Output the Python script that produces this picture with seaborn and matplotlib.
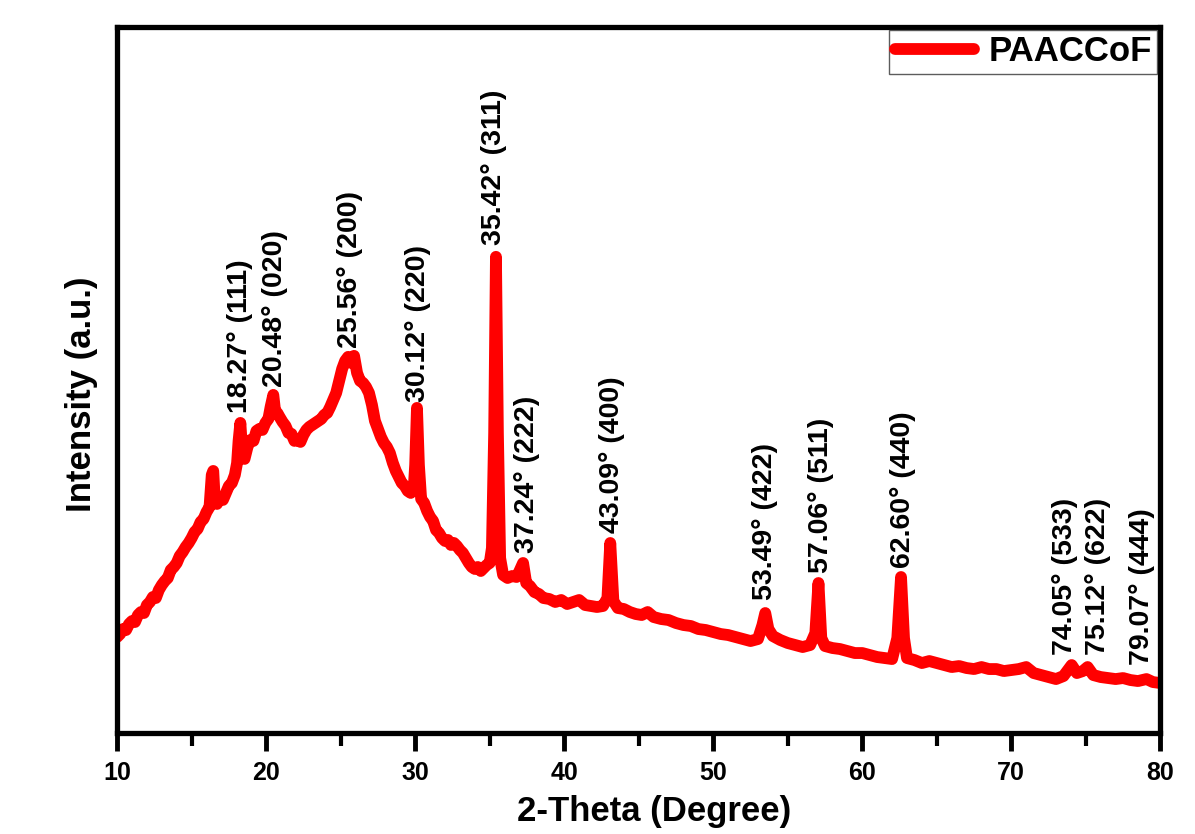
import pandas as pd
import matplotlib
matplotlib.use("Agg")
import matplotlib.pyplot as plt
import seaborn as sns

# XRD pattern of PAACCoF (arbitrary intensity units)
two_theta = [10.0, 10.2, 10.4, 10.6, 10.8, 11.0, 11.2, 11.4, 11.6, 11.8, 12.0, 12.2,
             12.4, 12.6, 12.8, 13.0, 13.2, 13.4, 13.6, 13.8, 14.0, 14.2, 14.4, 14.6,
             14.8, 15.0, 15.2, 15.4, 15.6, 15.8, 16.0, 16.2, 16.35, 16.45, 16.55, 16.7,
             16.9, 17.1, 17.3, 17.5, 17.7, 17.9, 18.05, 18.15, 18.27, 18.4, 18.55, 18.75,
             18.95, 19.15, 19.35, 19.55, 19.75, 19.95, 20.15, 20.3, 20.48, 20.6, 20.75, 20.9,
             21.1, 21.3, 21.5, 21.7, 21.9, 22.1, 22.3, 22.5, 22.7, 22.9, 23.1, 23.3,
             23.5, 23.7, 23.9, 24.1, 24.3, 24.5, 24.7, 24.9, 25.1, 25.3, 25.5, 25.7,
             25.9, 26.1, 26.3, 26.5, 26.7, 26.9, 27.1, 27.3, 27.5, 27.7, 27.9, 28.1,
             28.3, 28.5, 28.7, 28.9, 29.1, 29.3, 29.5, 29.7, 29.9, 30.0, 30.12, 30.25,
             30.4, 30.6, 30.8, 31.0, 31.2, 31.4, 31.6, 31.8, 32.0, 32.2, 32.4, 32.6,
             32.8, 33.0, 33.2, 33.4, 33.6, 33.8, 34.0, 34.2, 34.4, 34.6, 34.8, 35.0,
             35.15, 35.3, 35.42, 35.55, 35.7, 35.9, 36.2, 36.5, 36.8, 37.0, 37.24, 37.45,
             37.7, 38.0, 38.3, 38.6, 39.0, 39.4, 39.8, 40.2, 40.6, 41.0, 41.4, 41.8,
             42.2, 42.6, 42.9, 43.09, 43.3, 43.6, 44.0, 44.4, 44.8, 45.2, 45.6, 46.0,
             46.5, 47.0, 47.5, 48.0, 48.5, 49.0, 49.5, 50.0, 50.5, 51.0, 51.5, 52.0,
             52.5, 53.0, 53.3, 53.49, 53.7, 54.0, 54.5, 55.0, 55.5, 56.0, 56.5, 56.85,
             57.06, 57.25, 57.5, 58.0, 58.5, 59.0, 59.5, 60.0, 60.5, 61.0, 61.5, 62.0,
             62.35, 62.6, 62.8, 63.0, 63.5, 64.0, 64.5, 65.0, 65.5, 66.0, 66.5, 67.0,
             67.5, 68.0, 68.5, 69.0, 69.5, 70.0, 70.5, 71.0, 71.5, 72.0, 72.5, 73.0,
             73.5, 74.05, 74.4, 74.8, 75.12, 75.5, 76.0, 76.5, 77.0, 77.5, 78.0, 78.5,
             79.07, 79.5, 80.0]
intensity = [96, 99, 104, 103, 109, 112, 111, 118, 121, 120, 128, 131,
             136, 135, 143, 148, 152, 155, 163, 166, 170, 177, 181, 186,
             190, 195, 201, 204, 211, 214, 221, 226, 258, 262, 234, 229,
             236, 233, 240, 247, 250, 258, 270, 292, 310, 280, 274, 286,
             293, 292, 302, 304, 303, 310, 314, 326, 338, 322, 320, 316,
             311, 307, 300, 299, 292, 293, 291, 298, 303, 306, 308, 310,
             312, 314, 318, 320, 326, 333, 340, 352, 364, 372, 376, 370,
             377, 360, 352, 350, 346, 340, 328, 312, 304, 296, 290, 286,
             280, 270, 262, 256, 250, 247, 242, 240, 244, 268, 325, 268,
             234, 230, 222, 216, 212, 203, 200, 195, 192, 193, 188, 190,
             187, 183, 180, 175, 170, 166, 164, 166, 162, 165, 168, 170,
             185, 300, 476, 300, 175, 158, 155, 157, 156, 162, 170, 150,
             147, 141, 139, 135, 134, 131, 133, 129, 131, 133, 128, 127,
             126, 127, 135, 190, 132, 125, 124, 121, 119, 118, 121, 116,
             114, 113, 110, 108, 107, 104, 103, 101, 99, 98, 96, 94,
             92, 94, 108, 120, 104, 97, 93, 90, 88, 86, 88, 100,
             150, 95, 87, 85, 84, 82, 80, 80, 78, 76, 75, 74,
             95, 156, 95, 75, 73, 70, 72, 70, 68, 66, 67, 65,
             64, 66, 64, 64, 62, 63, 64, 66, 60, 58, 56, 54,
             57, 68, 60, 62, 66, 58, 56, 55, 54, 55, 53, 52,
             54, 51, 50]

peak_labels = ["18.27° (111)", "20.48° (020)", "25.56° (200)", "30.12° (220)",
               "35.42° (311)", "37.24° (222)", "43.09° (400)", "53.49° (422)",
               "57.06° (511)", "62.60° (440)", "74.05° (533)", "75.12° (622)",
               "79.07° (444)"]
label_x = [18.25, 20.6, 25.65, 30.2, 35.3, 37.5, 43.2, 53.5, 57.2, 62.75, 73.6, 75.8, 78.8]
label_y = [320, 346, 385, 331, 488, 180, 200, 133, 160, 165, 78, 78, 68]

df = pd.DataFrame({"2-Theta": two_theta, "Intensity": intensity})

sns.set_style("ticks")
plt.rcParams["font.family"] = ["Liberation Sans", "DejaVu Sans"]
plt.rcParams["font.weight"] = "bold"
plt.rcParams["text.color"] = "black"
plt.rcParams["axes.labelcolor"] = "black"
plt.rcParams["xtick.color"] = "black"

fig = plt.figure(figsize=(11.95, 8.34), dpi=100)
ax = fig.add_axes([0.098, 0.121, 0.873, 0.847])

sns.lineplot(data=df, x="2-Theta", y="Intensity", color="#ff0000", linewidth=8.5,
             label="PAACCoF", ax=ax, solid_joinstyle="round", solid_capstyle="round")

for txt, lx, ly in zip(peak_labels, label_x, label_y):
    ax.text(lx, ly, txt, rotation=90, ha="center", va="bottom",
            fontsize=20.5, fontweight="bold", color="black")

ax.set_xlim(10, 80)
ax.set_ylim(0, 706)
ax.set_xticks(range(10, 81, 10))
ax.set_xticks(range(15, 80, 10), minor=True)
ax.set_yticks([])
ax.tick_params(axis="x", which="both", bottom=True, top=False, direction="out")
ax.tick_params(axis="x", which="major", length=13, width=3.5, labelsize=18, pad=7)
ax.tick_params(axis="x", which="minor", length=9, width=3)
for lab in ax.get_xticklabels():
    lab.set_fontweight("bold")
for sp in ax.spines.values():
    sp.set_linewidth(3.8)
    sp.set_color("black")

ax.set_xlabel("2-Theta (Degree)", fontsize=25, fontweight="bold")
ax.set_ylabel("Intensity (a.u.)", fontsize=25, fontweight="bold")
ax.yaxis.set_label_coords(-0.018, 0.479)
ax.xaxis.set_label_coords(0.515, -0.088)

leg = ax.legend(loc="upper right", frameon=True, fancybox=False,
                handlelength=2.3, borderaxespad=0.1, borderpad=0.15,
                handletextpad=0.4, prop={"weight": "bold", "size": 25})
leg.get_frame().set_edgecolor("#333333")
leg.get_frame().set_linewidth(1)
for t in leg.get_texts():
    t.set_color("black")

fig.savefig("out.png", dpi=100, facecolor="white")
